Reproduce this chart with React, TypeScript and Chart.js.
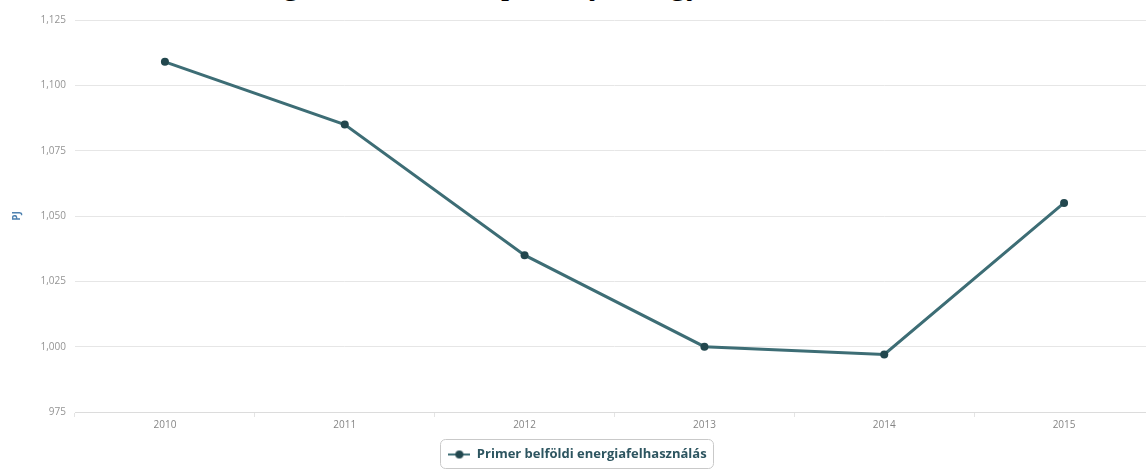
import React, { useEffect, useRef } from "react";
import { Chart, registerables } from "chart.js";

Chart.register(...registerables);

// Data
const years = ["2010", "2011", "2012", "2013", "2014", "2015"];
const energyUsePJ = [1109, 1085, 1035, 1000, 997, 1055];
const seriesLabel = "Primer belföldi energiafelhasználás";
const yAxisTitle = "PJ";
const yMin = 975;
const yMax = 1125;
const yStep = 25;
const headingText = "Hungarian domestic primary energy use";

const LINE_COLOR = "#3d6d75";
const DOT_COLOR = "#22474e";

// Legend symbol: short line with a dot in the middle
function makeLegendMarker(): HTMLCanvasElement {
  const c = document.createElement("canvas");
  c.width = 22;
  c.height = 10;
  const g = c.getContext("2d")!;
  g.strokeStyle = LINE_COLOR;
  g.lineWidth = 2;
  g.beginPath();
  g.moveTo(0, 5);
  g.lineTo(22, 5);
  g.stroke();
  g.fillStyle = DOT_COLOR;
  g.beginPath();
  g.arc(11, 5, 4, 0, Math.PI * 2);
  g.fill();
  return c;
}

// Rounded frame around the legend item
const legendFrame = {
  id: "legendFrame",
  afterDraw(chart: any) {
    const lg = chart.legend;
    if (!lg || !lg.legendHitBoxes || !lg.legendHitBoxes.length) return;
    const hb = lg.legendHitBoxes[0];
    const ctx = chart.ctx;
    ctx.save();
    ctx.strokeStyle = "#c9c9c9";
    ctx.lineWidth = 1;
    ctx.beginPath();
    const cy = hb.top + hb.height / 2;
    ctx.roundRect(Math.round(hb.left - 8) + 0.5, Math.round(cy - 15.5) + 0.5, Math.round(hb.width + 15), 29, 5);
    ctx.stroke();
    ctx.restore();
  },
};

export default function App() {
  const canvasRef = useRef<HTMLCanvasElement | null>(null);

  useEffect(() => {
    if (!canvasRef.current) return;
    const chart = new Chart(canvasRef.current, {
      type: "line",
      data: {
        labels: years,
        datasets: [
          {
            label: seriesLabel,
            data: energyUsePJ,
            borderColor: LINE_COLOR,
            backgroundColor: DOT_COLOR,
            borderWidth: 3,
            pointRadius: 4,
            pointBackgroundColor: DOT_COLOR,
            pointBorderWidth: 0,
            tension: 0,
          },
        ],
      },
      options: {
        animation: false,
        responsive: false,
        devicePixelRatio: 1,
        layout: { padding: { left: 0, right: 3, top: 20, bottom: 1 } },
        scales: {
          x: {
            offset: true,
            grid: {
              offset: true,
              drawOnChartArea: false,
              drawTicks: true,
              tickLength: 5,
              color: "#e4e4e4",
            },
            border: { display: true, color: "#dcdcdc" },
            ticks: {
              padding: 2,
              color: "#858585",
              font: { family: "Open Sans", size: 10 },
            },
          },
          y: {
            min: yMin,
            max: yMax,
            afterFit(scale: any) {
              scale.width = 75;
            },
            grid: { color: "#e6e6e6", drawTicks: false, lineWidth: 1 },
            border: { display: false },
            ticks: {
              stepSize: yStep,
              padding: 9,
              color: "#949494",
              font: { family: "Open Sans", size: 10 },
              callback: (v: any) => Number(v).toLocaleString("en-US"),
            },
            title: {
              display: true,
              text: yAxisTitle,
              color: "#4f82b0",
              font: { family: "Open Sans", size: 10, weight: "bold" },
              padding: { top: 11, bottom: 0 },
            },
          },
        },
        plugins: {
          legend: {
            position: "bottom",
            labels: {
              usePointStyle: true,
              pointStyle: makeLegendMarker() as any,
              pointStyleWidth: 22,
              boxHeight: 10,
              padding: 15,
              color: "#2d5560",
              font: { family: "Open Sans", size: 13, weight: "bold" },
            },
          },
          tooltip: { enabled: false },
        },
      },
      plugins: [legendFrame],
    });
    return () => chart.destroy();
  }, []);

  return (
    <div
      style={{
        position: "fixed",
        left: 0,
        top: 0,
        width: 1146,
        height: 472,
        overflow: "hidden",
        background: "#fff",
      }}
    >
      <div
        style={{
          position: "absolute",
          left: 226,
          top: -33,
          fontFamily: "'Liberation Serif', serif",
          fontSize: 33,
          lineHeight: "33px",
          whiteSpace: "nowrap",
          color: "#000",
        }}
      >
        {headingText}
      </div>
      <canvas
        ref={canvasRef}
        width={1158}
        height={472}
        style={{ position: "absolute", left: 0, top: 0, width: 1158, height: 472 }}
      />
    </div>
  );
}
